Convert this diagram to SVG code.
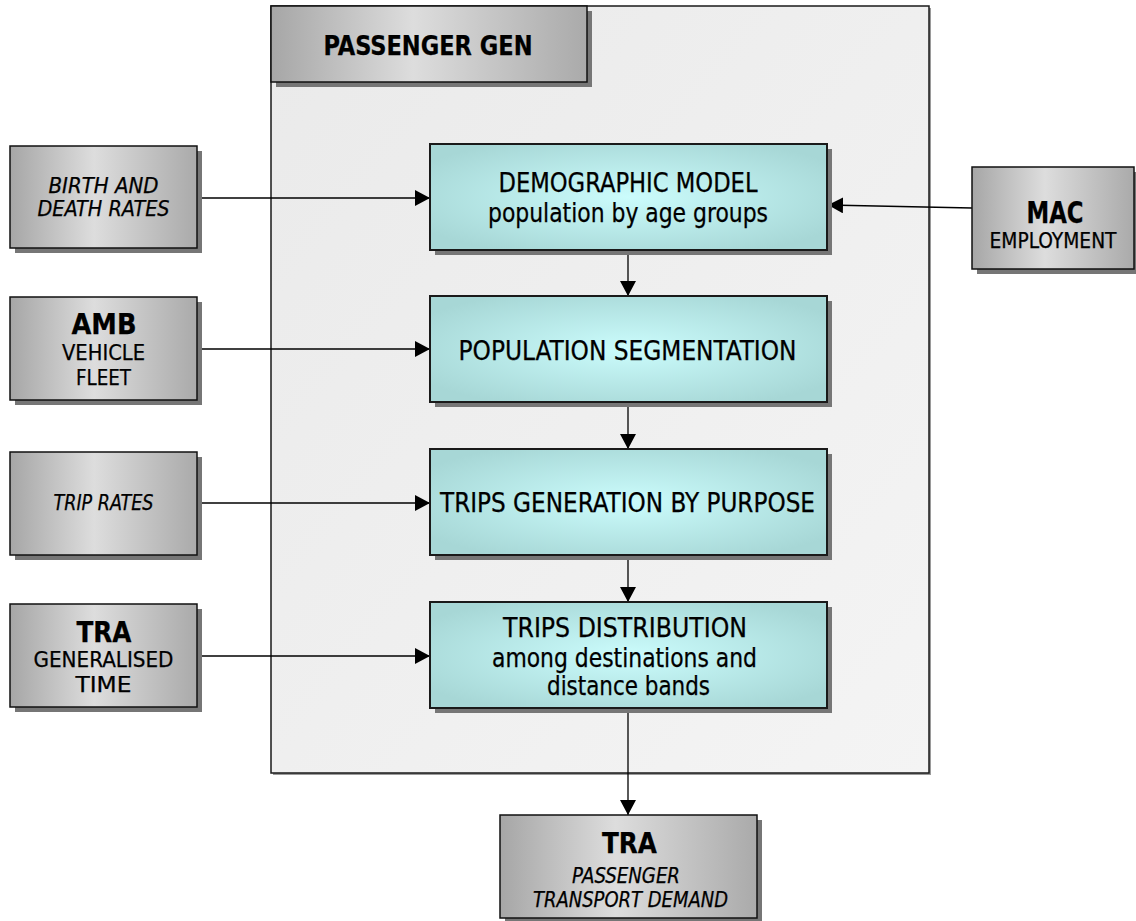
<svg xmlns="http://www.w3.org/2000/svg" width="1136" height="921" viewBox="0 0 1136 921">
  <defs>
    <linearGradient id="greyFill" x1="0" y1="0" x2="1" y2="0">
      <stop offset="0" stop-color="#a6a6a6"/>
      <stop offset="0.45" stop-color="#dddddd"/>
      <stop offset="1" stop-color="#aaaaaa"/>
    </linearGradient>
    <radialGradient id="tealFill" cx="0.5" cy="0.5" r="0.6">
      <stop offset="0" stop-color="#cbfcfc"/>
      <stop offset="1" stop-color="#a7d7d6"/>
    </radialGradient>
    <linearGradient id="panelFill" x1="0" y1="0" x2="1" y2="1">
      <stop offset="0" stop-color="#eaeaea"/>
      <stop offset="1" stop-color="#f4f4f4"/>
    </linearGradient>
    <marker id="arrow" markerUnits="userSpaceOnUse" markerWidth="16" markerHeight="16" refX="15" refY="8" orient="auto">
      <path d="M0,0 L15,8 L0,16 Z" fill="#000"/>
    </marker>
  </defs>
  <style>
    text { font-family: "DejaVu Sans Condensed", "DejaVu Sans", sans-serif; font-stretch: condensed; fill: #000; stroke: #000; stroke-width: 0.25; text-anchor: middle; }
    .main { font-size: 26px; }
    .sub { font-size: 22px; }
    .ital { font-size: 21px; font-style: italic; }
    .bold { font-size: 28px; font-weight: bold; }
    .title { font-size: 27px; font-weight: bold; }
    .shadow { fill: #767676; }
    .grey { fill: url(#greyFill); stroke: #111; stroke-width: 1.5; }
    .teal { fill: url(#tealFill); stroke: #1a1a1a; stroke-width: 2; }
    .link { fill: none; stroke: #000; stroke-width: 1.3; marker-end: url(#arrow); }
  </style>

  <!-- model panel -->
  <g id="panel">
    <rect x="273" y="8" width="658" height="767" fill="#9a9a9a"/>
    <rect x="271" y="6" width="658" height="767" fill="url(#panelFill)" stroke="#1a1a1a" stroke-width="1.5"/>
  </g>

  <g id="title">
    <rect class="shadow" x="276" y="11" width="316" height="76"/>
    <rect class="grey" x="271" y="6" width="316" height="76"/>
    <text class="title" x="428" y="55" textLength="209" lengthAdjust="spacingAndGlyphs">PASSENGER GEN</text>
  </g>

  <!-- connectors -->
  <g id="connectors">
    <line class="link" x1="197" y1="198" x2="430" y2="198"/>
    <line class="link" x1="972" y1="208" x2="828" y2="205"/>
    <line class="link" x1="197" y1="349" x2="430" y2="349"/>
    <line class="link" x1="197" y1="503" x2="430" y2="503"/>
    <line class="link" x1="197" y1="656" x2="430" y2="656"/>
    <line class="link" x1="628" y1="250" x2="628" y2="296"/>
    <line class="link" x1="628" y1="402" x2="628" y2="449"/>
    <line class="link" x1="628" y1="555" x2="628" y2="602"/>
    <line class="link" x1="628" y1="708" x2="628" y2="815"/>
  </g>

  <!-- input nodes -->
  <g id="birth-death">
    <rect class="shadow" x="15" y="151" width="187" height="102"/>
    <rect class="grey" x="10" y="146" width="187" height="102"/>
    <text class="ital" x="103.5" y="193" textLength="110" lengthAdjust="spacingAndGlyphs">BIRTH AND</text>
    <text class="ital" x="103.5" y="216" textLength="132" lengthAdjust="spacingAndGlyphs">DEATH RATES</text>
  </g>

  <g id="amb">
    <rect class="shadow" x="15" y="302" width="187" height="103"/>
    <rect class="grey" x="10" y="297" width="187" height="103"/>
    <text class="bold" x="104" y="334" textLength="65" lengthAdjust="spacingAndGlyphs">AMB</text>
    <text class="sub" x="103.5" y="360" textLength="83" lengthAdjust="spacingAndGlyphs">VEHICLE</text>
    <text class="sub" x="103.5" y="385" textLength="55" lengthAdjust="spacingAndGlyphs">FLEET</text>
  </g>

  <g id="trip-rates">
    <rect class="shadow" x="15" y="457" width="187" height="103"/>
    <rect class="grey" x="10" y="452" width="187" height="103"/>
    <text class="ital" x="103.5" y="510" textLength="100" lengthAdjust="spacingAndGlyphs">TRIP RATES</text>
  </g>

  <g id="tra-time">
    <rect class="shadow" x="15" y="609" width="187" height="103"/>
    <rect class="grey" x="10" y="604" width="187" height="103"/>
    <text class="bold" x="104" y="642" textLength="55" lengthAdjust="spacingAndGlyphs">TRA</text>
    <text class="sub" x="103.5" y="667" textLength="140" lengthAdjust="spacingAndGlyphs">GENERALISED</text>
    <text class="sub" x="103.5" y="692" textLength="56" lengthAdjust="spacingAndGlyphs">TIME</text>
  </g>

  <g id="mac">
    <rect class="shadow" x="977" y="172" width="162" height="102"/>
    <rect class="grey" x="972" y="167" width="162" height="102"/>
    <text class="bold" x="1055" y="223" textLength="57" lengthAdjust="spacingAndGlyphs" style="font-size:30px">MAC</text>
    <text class="sub" x="1053" y="248" textLength="127" lengthAdjust="spacingAndGlyphs">EMPLOYMENT</text>
  </g>

  <!-- model steps -->
  <g id="demographic">
    <rect class="shadow" x="435" y="149" width="397" height="106"/>
    <rect class="teal" x="430" y="144" width="397" height="106"/>
    <text class="main" x="628" y="192" textLength="259" lengthAdjust="spacingAndGlyphs">DEMOGRAPHIC MODEL</text>
    <text class="main" x="628" y="222" textLength="280" lengthAdjust="spacingAndGlyphs">population by age groups</text>
  </g>

  <g id="segmentation">
    <rect class="shadow" x="435" y="301" width="397" height="106"/>
    <rect class="teal" x="430" y="296" width="397" height="106"/>
    <text class="main" x="627.5" y="360" textLength="338" lengthAdjust="spacingAndGlyphs">POPULATION SEGMENTATION</text>
  </g>

  <g id="generation">
    <rect class="shadow" x="435" y="454" width="397" height="106"/>
    <rect class="teal" x="430" y="449" width="397" height="106"/>
    <text class="main" x="627.5" y="512" textLength="375" lengthAdjust="spacingAndGlyphs">TRIPS GENERATION BY PURPOSE</text>
  </g>

  <g id="distribution">
    <rect class="shadow" x="435" y="607" width="397" height="106"/>
    <rect class="teal" x="430" y="602" width="397" height="106"/>
    <text class="main" x="625" y="637" textLength="244" lengthAdjust="spacingAndGlyphs">TRIPS DISTRIBUTION</text>
    <text class="main" x="624.5" y="667" textLength="265" lengthAdjust="spacingAndGlyphs">among destinations and</text>
    <text class="main" x="628.5" y="695" textLength="163" lengthAdjust="spacingAndGlyphs">distance bands</text>
  </g>

  <!-- output -->
  <g id="tra-demand">
    <rect class="shadow" x="505" y="820" width="257" height="103"/>
    <rect class="grey" x="500" y="815" width="257" height="103"/>
    <text class="bold" x="629.5" y="853" textLength="55" lengthAdjust="spacingAndGlyphs">TRA</text>
    <text class="ital" x="626" y="883" textLength="108" lengthAdjust="spacingAndGlyphs">PASSENGER</text>
    <text class="ital" x="630.5" y="907" textLength="195" lengthAdjust="spacingAndGlyphs">TRANSPORT DEMAND</text>
  </g>
</svg>
